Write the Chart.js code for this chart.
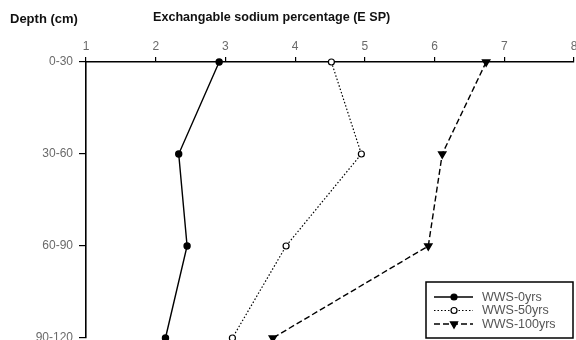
<!DOCTYPE html>
<html>
<head>
<meta charset="utf-8">
<script src="https://cdn.jsdelivr.net/npm/chart.js@4.4.1/dist/chart.umd.min.js"></script>
<style>
  html, body { margin: 0; padding: 0; background: #fff; overflow: hidden; }
  #wrap { position: absolute; left: 0; top: 0; width: 576px; height: 340px; }
</style>
</head>
<body>
<div id="wrap"><canvas id="c" width="576" height="340"></canvas></div>
<script>
// Soil depth intervals (cm)
const depths = ['0-30', '30-60', '60-90', '90-120'];
// Exchangeable sodium percentage by years of wastewater irrigation
const esp0yrs = [2.91, 2.33, 2.45, 2.14];
const esp50yrs = [4.52, 4.95, 3.87, 3.10];
const esp100yrs = [6.74, 6.11, 5.91, 3.68];
const espTicks = [1, 2, 3, 4, 5, 6, 7, 8];

const seriesNames = ['WWS-0yrs', 'WWS-50yrs', 'WWS-100yrs'];

const tickColor = '#6a6a6a';
const fontFamily = '"Liberation Sans", Arial, sans-serif';

// Titles above the chart
const titlePlugin = {
  id: 'titles',
  afterDraw(chart) {
    const ctx = chart.ctx;
    ctx.save();
    ctx.fillStyle = '#111';
    ctx.textBaseline = 'middle';
    ctx.textAlign = 'left';
    ctx.font = 'bold 13px ' + fontFamily;
    ctx.fillText('Depth (cm)', 10, 19);
    ctx.font = 'bold 12.6px ' + fontFamily;
    ctx.fillText('Exchangable sodium percentage (E SP)', 153, 18);
    ctx.restore();
  }
};

// Boxed legend with line samples and markers taken from each dataset
const boxLegend = {
  id: 'boxLegend',
  afterDraw(chart) {
    const ctx = chart.ctx;
    const x0 = 426, y0 = 282, w = 147, h = 56;
    ctx.save();
    ctx.fillStyle = '#fff';
    ctx.fillRect(x0, y0, w, h);
    ctx.strokeStyle = '#000';
    ctx.lineWidth = 1.5;
    ctx.strokeRect(x0, y0, w, h);
    chart.data.datasets.forEach((ds, i) => {
      const y = y0 + 15 + i * 13.5;
      ctx.save();
      ctx.strokeStyle = ds.borderColor;
      ctx.lineWidth = ds.borderWidth;
      ctx.setLineDash(ds.borderDash || []);
      ctx.beginPath();
      ctx.moveTo(434, y);
      ctx.lineTo(473, y);
      ctx.stroke();
      ctx.restore();
      ctx.save();
      ctx.fillStyle = ds.pointBackgroundColor;
      ctx.strokeStyle = ds.pointBorderColor;
      ctx.lineWidth = 1.2;
      Chart.helpers.drawPoint(ctx, {
        pointStyle: ds.pointStyle,
        radius: ds.pointRadius,
        rotation: ds.pointRotation || 0,
        borderWidth: 1.2
      }, 454, y);
      ctx.restore();
      ctx.fillStyle = '#555';
      ctx.font = '12.5px ' + fontFamily;
      ctx.textAlign = 'left';
      ctx.textBaseline = 'middle';
      ctx.fillText(ds.label, 482, y + 0.5);
    });
    ctx.restore();
  }
};

new Chart(document.getElementById('c'), {
  type: 'line',
  data: {
    labels: depths,
    datasets: [
      {
        label: seriesNames[0],
        data: esp0yrs,
        borderColor: '#000',
        borderWidth: 1.4,
        pointStyle: 'circle',
        pointRadius: 3,
        pointBackgroundColor: '#000',
        pointBorderColor: '#000',
        clip: false
      },
      {
        label: seriesNames[1],
        data: esp50yrs,
        borderColor: '#000',
        borderWidth: 1.2,
        borderDash: [1.5, 2],
        pointStyle: 'circle',
        pointRadius: 3,
        pointBackgroundColor: '#fff',
        pointBorderColor: '#000',
        pointBorderWidth: 1.2,
        clip: false
      },
      {
        label: seriesNames[2],
        data: esp100yrs,
        borderColor: '#000',
        borderWidth: 1.4,
        borderDash: [6, 3],
        pointStyle: 'triangle',
        pointRotation: 180,
        pointRadius: 4.2,
        pointBackgroundColor: '#000',
        pointBorderColor: '#000',
        clip: false
      }
    ]
  },
  options: {
    indexAxis: 'y',
    responsive: false,
    animation: false,
    devicePixelRatio: 1,
    layout: { autoPadding: false, padding: { left: 0, top: 0, right: 2, bottom: 2 } },
    plugins: {
      legend: { display: false },
      tooltip: { enabled: false },
      title: { display: false }
    },
    scales: {
      x: {
        type: 'linear',
        position: 'top',
        min: 1,
        max: 8,
        afterBuildTicks(scale) {
          scale.ticks = espTicks.map(v => ({ value: v }));
        },
        afterFit(scale) {
          scale.height = 62;
          scale.paddingLeft = 0;
          scale.paddingRight = 0;
        },
        border: { display: true, color: '#000', width: 1.6 },
        grid: {
          display: true,
          drawOnChartArea: false,
          drawTicks: true,
          tickLength: 5,
          color: '#000',
          lineWidth: 1.2
        },
        ticks: {
          color: tickColor,
          padding: 3,
          maxRotation: 0,
          autoSkip: false,
          font: { family: fontFamily, size: 12 }
        }
      },
      y: {
        type: 'category',
        offset: false,
        afterFit(scale) {
          scale.width = 86;
          scale.paddingTop = 0;
          scale.paddingBottom = 0;
        },
        border: { display: true, color: '#000', width: 1.6 },
        grid: {
          display: true,
          drawOnChartArea: false,
          drawTicks: true,
          tickLength: 7,
          color: '#000',
          lineWidth: 1.2
        },
        ticks: {
          color: tickColor,
          padding: 6,
          autoSkip: false,
          font: { family: fontFamily, size: 12 }
        }
      }
    }
  },
  plugins: [titlePlugin, boxLegend]
});
</script>
</body>
</html>
